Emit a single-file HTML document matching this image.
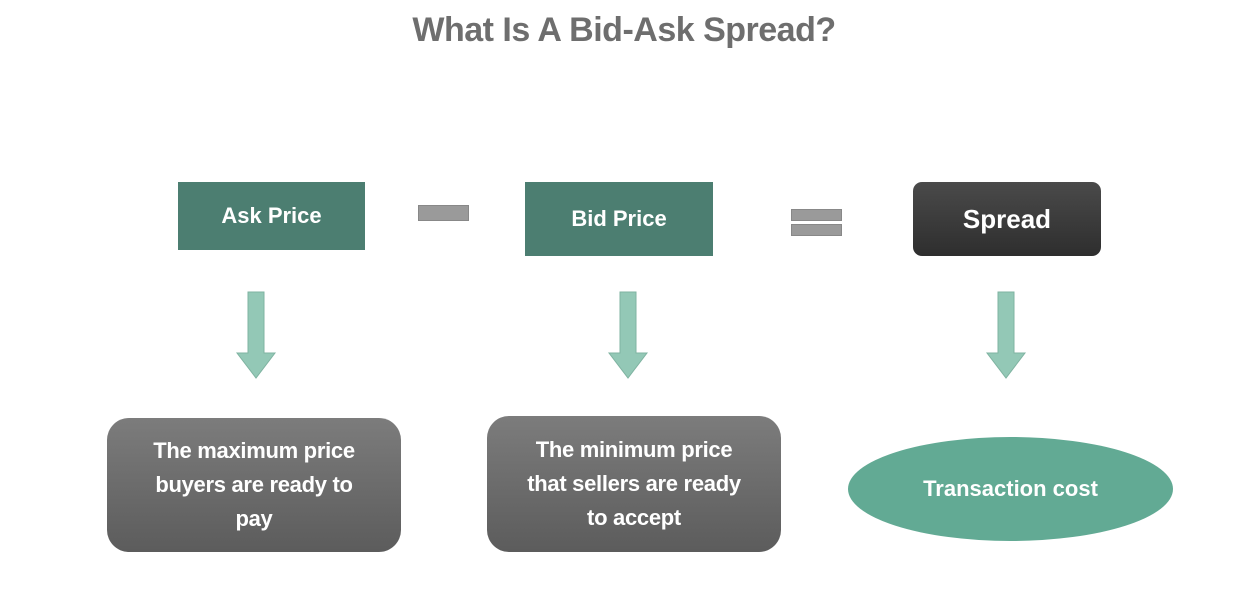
<!DOCTYPE html>
<html><head><meta charset="utf-8"><style>
body{margin:0;width:1248px;height:596px;background:#fff;position:relative;overflow:hidden;font-family:"Liberation Sans",sans-serif;}
div{position:absolute;box-sizing:border-box;}
.t{color:#fff;font-weight:bold;display:flex;align-items:center;justify-content:center;text-align:center;}
.g{background:#4c7e71;font-size:22px;}
.gray{background:linear-gradient(#7c7c7c,#5c5c5c);border-radius:22px;font-size:22px;line-height:34px;letter-spacing:-0.3px;}
.bar{background:#9a9a9a;border:1px solid #888;}
</style></head><body>
<div style="left:0;width:1248px;top:11px;text-align:center;font-size:34px;font-weight:bold;color:#6e6e6e;letter-spacing:-0.5px;">What Is A Bid-Ask Spread?</div>
<div class="t g" style="left:178px;top:182px;width:187px;height:68px;">Ask Price</div>
<div class="bar" style="left:418px;top:205px;width:51px;height:16px;"></div>
<div class="t g" style="left:525px;top:182px;width:188px;height:74px;">Bid Price</div>
<div class="bar" style="left:791px;top:209px;width:51px;height:12px;"></div>
<div class="bar" style="left:791px;top:224px;width:51px;height:12px;"></div>
<div class="t" style="left:913px;top:182px;width:188px;height:74px;border-radius:9px;background:linear-gradient(#4a4a4a,#2e2e2e);font-size:26px;">Spread</div>
<svg width="1248" height="596" style="position:absolute;left:0;top:0">
<g fill="#93c8b6" stroke="#7fb3a1" stroke-width="1">
<polygon points="248,292 264,292 264,353 275,353 256,378 237,353 248,353"/>
<polygon points="620,292 636,292 636,353 647,353 628,378 609,353 620,353"/>
<polygon points="998,292 1014,292 1014,353 1025,353 1006,378 987,353 998,353"/>
</g></svg>
<div class="t gray" style="left:107px;top:418px;width:294px;height:134px;">The maximum price<br>buyers are ready to<br>pay</div>
<div class="t gray" style="left:487px;top:416px;width:294px;height:136px;">The minimum price<br>that sellers are ready<br>to accept</div>
<div class="t" style="left:848px;top:437px;width:325px;height:104px;border-radius:50%;background:#62aa94;font-size:22px;">Transaction cost</div>
</body></html>
